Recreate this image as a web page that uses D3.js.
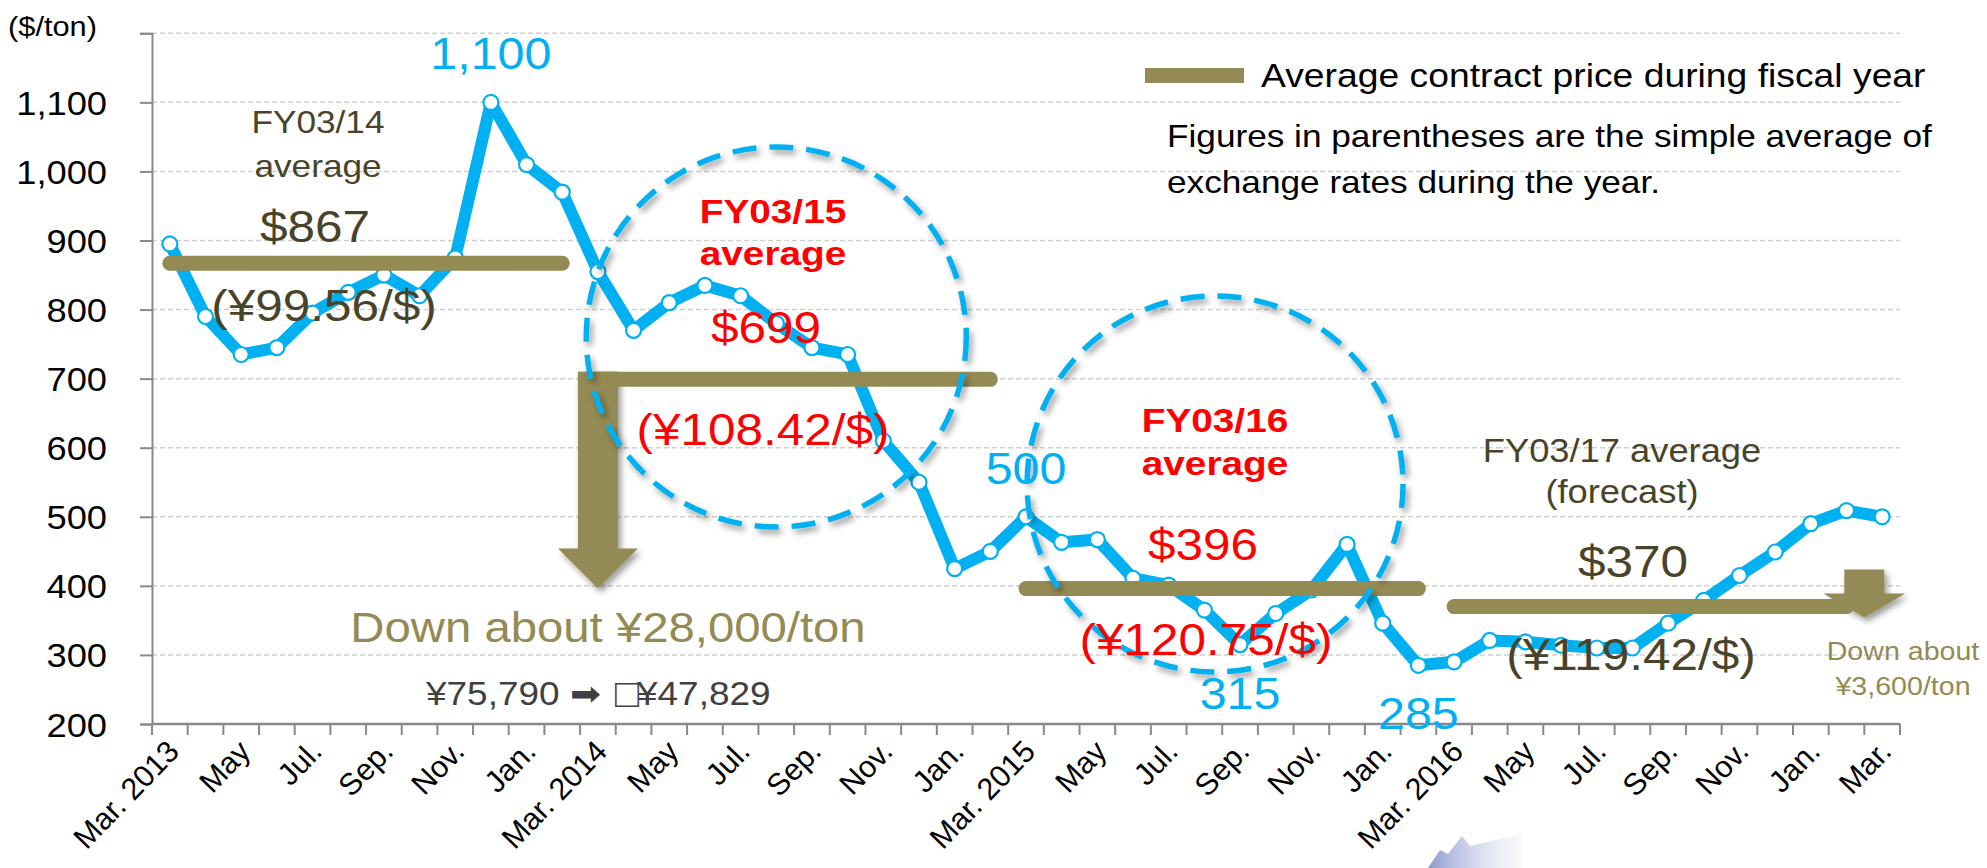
<!DOCTYPE html>
<html><head><meta charset="utf-8">
<script src="https://cdn.jsdelivr.net/npm/d3@7/dist/d3.min.js"></script>
<style>
body{margin:0;background:#fff;}
svg{display:block;font-family:"Liberation Sans",Arial,Helvetica,sans-serif;}
</style>
</head><body>
<svg id="chart" width="1987" height="868"></svg>
<script>
// ---------------- DATA ----------------
const months = ["2013-03","2013-04","2013-05","2013-06","2013-07","2013-08","2013-09","2013-10","2013-11","2013-12",
  "2014-01","2014-02","2014-03","2014-04","2014-05","2014-06","2014-07","2014-08","2014-09","2014-10","2014-11","2014-12",
  "2015-01","2015-02","2015-03","2015-04","2015-05","2015-06","2015-07","2015-08","2015-09","2015-10","2015-11","2015-12",
  "2016-01","2016-02","2016-03","2016-04","2016-05","2016-06","2016-07","2016-08","2016-09","2016-10","2016-11","2016-12",
  "2017-01","2017-02","2017-03"];
const prices = [895,790,735,745,795,825,850,820,875,1100,
  1010,970,855,770,810,835,820,780,745,735,610,550,
  425,450,500,463,467,411,401,365,315,360,394,460,
  346,285,290,321,319,314,310,310,346,379,415,449,
  490,509,500];
const tickLabels = ["Mar. 2013","May","Jul.","Sep.","Nov.","Jan.","Mar. 2014","May","Jul.","Sep.","Nov.","Jan.",
  "Mar. 2015","May","Jul.","Sep.","Nov.","Jan.","Mar. 2016","May","Jul.","Sep.","Nov.","Jan.","Mar."];
const yTicks = [200,300,400,500,600,700,800,900,1000,1100,1200];
const fyNames = ["FY03/14","FY03/15","FY03/16","FY03/17"];
const fyAvg = [867,699,396,370];
const fyStart = ["2013-03","2014-03","2015-03","2016-03"];
const fyEnd = ["2014-02","2015-02","2016-02","2017-02"];
const fyRate = ["(¥99.56/$)","(¥108.42/$)","(¥120.75/$)","(¥119.42/$)"];
const peakLabels = [{m:"2013-12",t:"1,100",pos:"above"},{m:"2015-03",t:"500",pos:"above"},
  {m:"2015-09",t:"315",pos:"below"},{m:"2016-02",t:"285",pos:"below"}];

// ---------------- SETUP ----------------
const BLUE="#00B0F0", OLIVE="#948A54", DARK="#494429", RED="#FF0000";
const SX = 1.1;
const svg = d3.select("#chart");
const defs = svg.append("defs");
const f = defs.append("filter").attr("id","shadow").attr("x","-30%").attr("y","-30%").attr("width","160%").attr("height","160%");
f.append("feDropShadow").attr("dx",3).attr("dy",4).attr("stdDeviation",3).attr("flood-color","#000").attr("flood-opacity",0.4);

const x = d3.scaleBand().domain(months).range([152,1900]).padding(0);
const bw = x.bandwidth();
const xc = m => x(m) + bw/2;
const y = d3.scaleLinear().domain([200,1200]).range([724,33.3]);

function put(g, t, px, py, size, color, opts={}){
  return g.append("text").text(t)
    .attr("transform",`translate(${px},${py}) scale(${opts.sx||SX},1)`)
    .attr("text-anchor",opts.anchor||"middle")
    .attr("font-size",size).attr("fill",color)
    .attr("font-weight",opts.weight||"normal");
}

// watermark fragment at bottom
const wg = defs.append("linearGradient").attr("id","wm").attr("x1","0").attr("x2","1").attr("y1","0").attr("y2","0");
wg.append("stop").attr("offset","0").attr("stop-color","#7f8fc8").attr("stop-opacity",0.9);
wg.append("stop").attr("offset","1").attr("stop-color","#dfe4f4").attr("stop-opacity",0.2);
svg.append("path").attr("d","M1428,868 L1440,850 L1448,854 L1462,836 L1470,846 L1522,834 L1522,868 Z").attr("fill","url(#wm)");

// gridlines
svg.append("g").selectAll("line").data(yTicks.filter(v=>v>200)).join("line")
  .attr("x1",152).attr("x2",1900).attr("y1",d=>y(d)).attr("y2",d=>y(d))
  .attr("stroke","#d0d0d0").attr("stroke-width",1.5).attr("stroke-dasharray","5,3");

// y axis
const yAxis = svg.append("g").attr("transform","translate(152,0)")
  .call(d3.axisLeft(y).tickValues(yTicks).tickSize(12).tickPadding(0)
        .tickFormat(v=> v===1200 ? "" : d3.format(",")(v)));
yAxis.select(".domain").attr("stroke","#898989").attr("stroke-width",2);
yAxis.selectAll(".tick line").attr("stroke","#898989").attr("stroke-width",2);
yAxis.selectAll(".tick text").attr("x",null).attr("dy",null)
  .attr("transform","translate(-45,12) scale(1.1,1)")
  .attr("font-size",33).attr("fill","#000").attr("font-family","Liberation Sans, Arial, sans-serif");

// x axis
const xAxisG = svg.append("g");
xAxisG.append("line").attr("x1",152).attr("x2",1900).attr("y1",724).attr("y2",724)
  .attr("stroke","#898989").attr("stroke-width",2.5);
xAxisG.selectAll("line.tk").data(months.concat(["end"])).join("line").attr("class","tk")
  .attr("x1",(d,i)=>152+i*bw).attr("x2",(d,i)=>152+i*bw).attr("y1",724).attr("y2",735)
  .attr("stroke","#898989").attr("stroke-width",2);
xAxisG.selectAll("text").data(tickLabels).join("text")
  .text(d=>d)
  .attr("transform",(d,i)=>`translate(${xc(months[i*2])+11},${753}) rotate(-46)`)
  .attr("text-anchor","end").attr("font-size",30.5).attr("fill","#000");

// axis unit
put(svg,"($/ton)",8,36,28,"#000",{anchor:"start"});

// price line
svg.append("path").datum(prices)
  .attr("d",d3.line().x((v,i)=>xc(months[i])).y(v=>y(v)))
  .attr("fill","none").attr("stroke",BLUE).attr("stroke-width",12).attr("stroke-linejoin","round");
svg.append("g").selectAll("circle").data(prices).join("circle")
  .attr("cx",(v,i)=>xc(months[i])).attr("cy",v=>y(v)).attr("r",7.5)
  .attr("fill","#fff").attr("stroke",BLUE).attr("stroke-width",2.2);

// big arrow FY15 -> FY16 (drawn behind bars)
{
  const cx = xc(fyStart[1]);
  const top = y(fyAvg[1]) - 7.5, tip = y(fyAvg[2]), hs = tip - 40;
  svg.append("path").attr("filter","url(#shadow)").attr("fill",OLIVE)
    .attr("d",`M${cx-20},${top} L${cx+20},${top} L${cx+20},${hs} L${cx+40},${hs} L${cx},${tip} L${cx-40},${hs} L${cx-20},${hs} Z`);
}
// small arrow FY17
{
  const cx = x(months[48]);
  const yb = y(fyAvg[3]);
  const top = yb - 37, hs = yb - 13, tip = yb + 11;
  svg.append("path").attr("filter","url(#shadow)").attr("fill",OLIVE)
    .attr("d",`M${cx-20},${top} L${cx+20},${top} L${cx+20},${hs} L${cx+41},${hs} L${cx},${tip} L${cx-41},${hs} L${cx-20},${hs} Z`);
}

// FY average bars
svg.append("g").selectAll("line").data(fyAvg).join("line")
  .attr("x1",(v,i)=>xc(fyStart[i])).attr("x2",(v,i)=>xc(fyEnd[i]))
  .attr("y1",v=>y(v)).attr("y2",v=>y(v))
  .attr("stroke",OLIVE).attr("stroke-width",15).attr("stroke-linecap","round");
{
  const cx = xc(fyStart[1]);
  const top = y(fyAvg[1]) - 7.5;
  svg.append("rect").attr("x",cx-20).attr("y",top).attr("width",40).attr("height",30).attr("fill",OLIVE);
}

// dashed circles
const circ = [{cx:152+17.5*bw, cy:337, r:190},{cx:152+29.8*bw, cy:484, r:188}];
svg.append("g").selectAll("circle").data(circ).join("circle")
  .attr("cx",d=>d.cx).attr("cy",d=>d.cy).attr("r",d=>d.r)
  .attr("fill","none").attr("stroke",BLUE).attr("stroke-width",5.5)
  .attr("stroke-dasharray","24,13").attr("filter","url(#shadow)");

// peak labels
peakLabels.forEach(p=>{
  const v = prices[months.indexOf(p.m)];
  put(svg,p.t,xc(p.m), p.pos==="above" ? y(v)-33 : y(v)+64, 44, BLUE);
});

// FY annotations
put(svg,fyNames[0],318,133,32,DARK);
put(svg,"average",318,177,32,DARK);
put(svg,"$"+fyAvg[0],315,242,45,DARK);
put(svg,fyRate[0],324,321,45,DARK);

put(svg,fyNames[1],773,223,34,RED,{weight:"bold",sx:1.14});
put(svg,"average",773,265,34,RED,{weight:"bold",sx:1.14});
put(svg,"$"+fyAvg[1],766,343,45,RED);
put(svg,fyRate[1],763,445,45,RED);

put(svg,fyNames[2],1215,432,34,RED,{weight:"bold",sx:1.14});
put(svg,"average",1215,475,34,RED,{weight:"bold",sx:1.14});
put(svg,"$"+fyAvg[2],1203,560,45,RED);
put(svg,fyRate[2],1206,655,45,RED);

put(svg,fyNames[3]+" average",1622,462,33,DARK);
put(svg,"(forecast)",1622,503,33,DARK);
put(svg,"$"+fyAvg[3],1633,577,45,DARK);
put(svg,fyRate[3],1631,670,45,DARK);

put(svg,"Down about ¥28,000/ton",608,642,43,OLIVE);
put(svg,"¥75,790 ➡",426,705,33,"#404040",{anchor:"start",sx:1.12});
put(svg,"□",615,707,40,"#404040",{anchor:"start",sx:1.0});
put(svg,"¥47,829",637,705,33,"#404040",{anchor:"start",sx:1.12});
put(svg,"Down about",1903,660,26,OLIVE);
put(svg,"¥3,600/ton",1903,695,26,OLIVE);

// legend & note
svg.append("rect").attr("x",1145).attr("y",68).attr("width",99).attr("height",15).attr("fill",OLIVE);
put(svg,"Average contract price during fiscal year",1261,87,33,"#000",{anchor:"start",sx:1.13});
put(svg,"Figures in parentheses are the simple average of",1167,147,32,"#000",{anchor:"start"});
put(svg,"exchange rates during the year.",1167,193,32,"#000",{anchor:"start"});
</script>
</body></html>
